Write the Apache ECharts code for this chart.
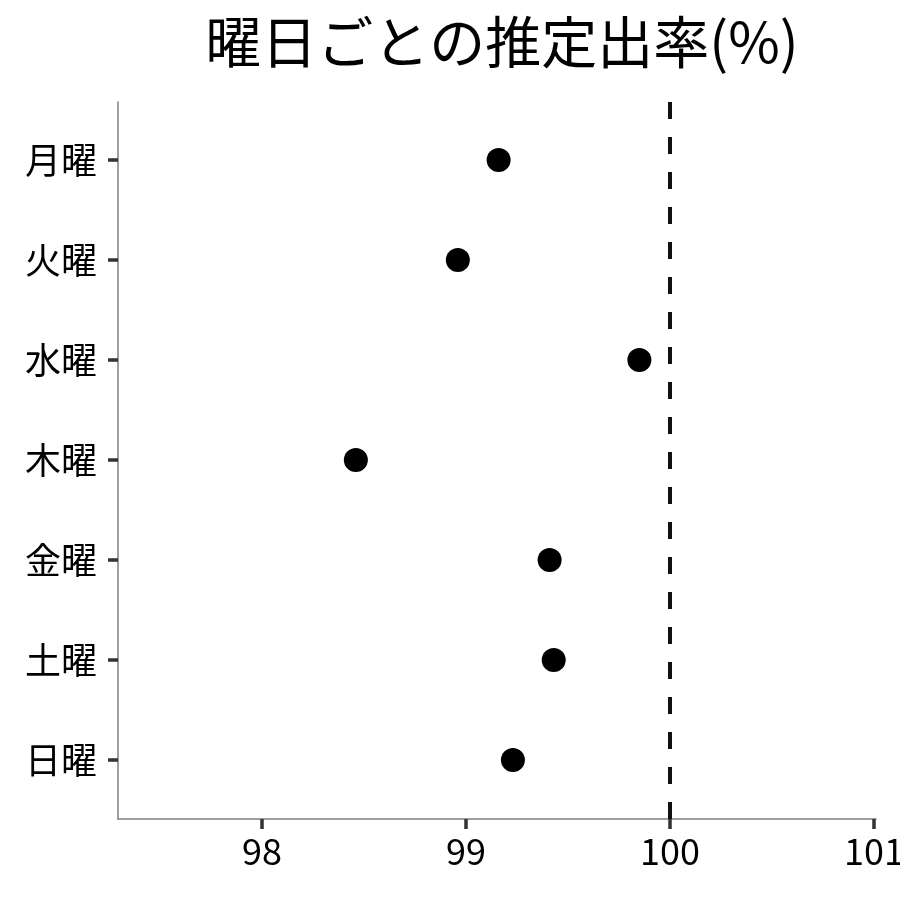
<!DOCTYPE html>
<html lang="ja">
  <head>
    <meta charset="UTF-8" />
    <title>曜日ごとの推定出率</title>
    <script src="https://cdn.jsdelivr.net/npm/echarts@6.0.0/dist/echarts.min.js"></script>
    <style>
      html, body { margin: 0; padding: 0; background: #fff; }
      #main { width: 900px; height: 900px; }
    </style>
  </head>
  <body>
    <div id="main"></div>

    <script>
      const days = ['月曜', '火曜', '水曜', '木曜', '金曜', '土曜', '日曜'];
      const rates = [99.16, 98.96, 99.85, 98.46, 99.41, 99.43, 99.23];
      const xTicks = [98, 99, 100, 101];
      const refValue = 100;

      const font = '"Noto Sans CJK JP", "Noto Sans", sans-serif';
      const dayPos = days.map((d, i) => i + 1);
      const yMin = 0.42;
      const yMax = 7.59;

      const options = {
        animation: false,
        backgroundColor: '#fff',
        title: {
          text: '曜日ごとの推定出率(%)',
          left: 497,
          top: 9,
          textAlign: 'center',
          textStyle: {
            fontFamily: font,
            fontSize: 56,
            fontWeight: 'normal',
            color: '#000',
          },
        },
        grid: {
          left: 118,
          right: 24,
          top: 102,
          bottom: 81,
          containLabel: false,
          outerBoundsMode: 'none',
        },
        xAxis: {
          type: 'value',
          min: 97.294,
          max: 101.01,
          splitLine: { show: false },
          axisLine: { lineStyle: { color: '#808080', width: 1.5 } },
          axisTick: {
            customValues: xTicks,
            length: 10,
            lineStyle: { color: '#333', width: 3.5 },
          },
          axisLabel: {
            customValues: xTicks,
            margin: 14,
            fontFamily: font,
            fontSize: 36,
            color: '#000',
          },
        },
        yAxis: {
          type: 'value',
          inverse: true,
          min: yMin,
          max: yMax,
          splitLine: { show: false },
          axisLine: { show: true, lineStyle: { color: '#808080', width: 1.5 } },
          axisTick: {
            show: true,
            customValues: dayPos,
            length: 10,
            lineStyle: { color: '#333', width: 3.5 },
          },
          axisLabel: {
            customValues: dayPos,
            margin: 21,
            fontFamily: font,
            fontSize: 36,
            color: '#000',
            formatter: (v) => days[Math.round(v) - 1] || '',
          },
        },
        series: [
          {
            type: 'scatter',
            symbol: 'circle',
            symbolSize: 24,
            itemStyle: { color: '#000', opacity: 1 },
            data: rates.map((r, i) => [r, dayPos[i]]),
            markLine: {
              silent: true,
              symbol: 'none',
              label: { show: false },
              lineStyle: {
                color: '#111',
                width: 4,
                type: [17, 18],
              },
              data: [
                [
                  { coord: [refValue, yMax] },
                  { coord: [refValue, yMin] },
                ],
              ],
            },
          },
        ],
      };

      const myChart = echarts.init(document.getElementById('main'));
      myChart.setOption(options);
    </script>
  </body>
</html>
